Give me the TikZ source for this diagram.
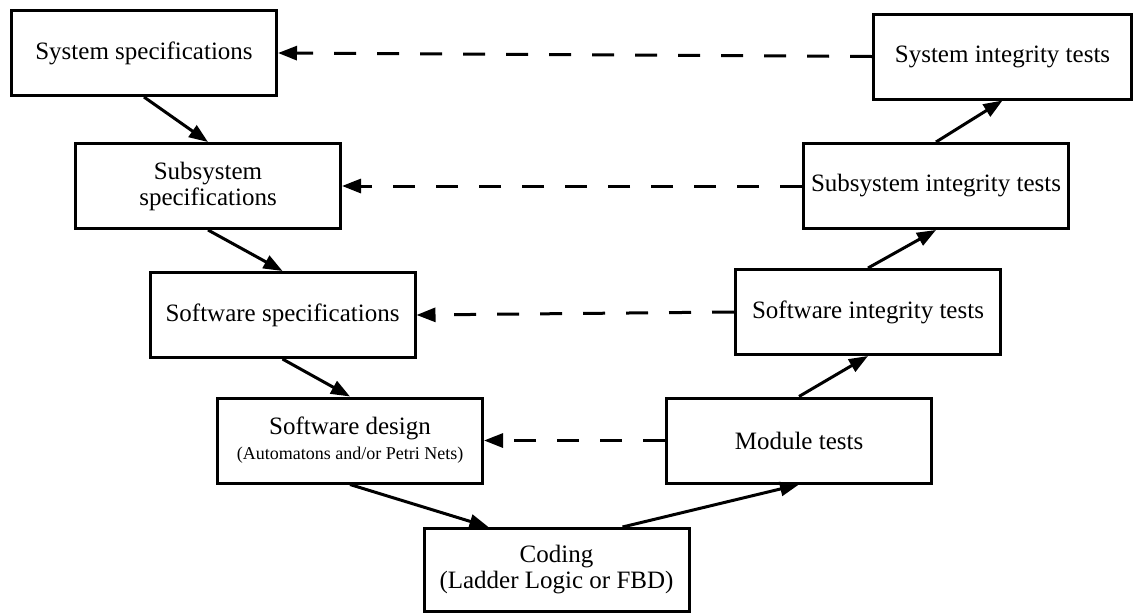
\documentclass[tikz,border=0pt]{standalone}
\usepackage{fontspec}
\setmainfont{Liberation Serif}
\usetikzlibrary{arrows.meta}
\begin{document}
\begin{tikzpicture}[x=1pt,y=-1pt,
  box/.style={draw, line width=3pt, minimum width=265pt, minimum height=85pt,
    inner sep=0pt, align=center, font=\fontsize{25pt}{26pt}\selectfont},
  flow/.style={line width=3pt, -{Triangle[length=19pt,width=14pt]}},
  back/.style={flow, dash pattern=on 22pt off 21pt}]
\useasboundingbox (0,0) rectangle (1135,614);
\node[box] (b1) at (144,53) {System specifications};
\node[box] (b2) at (208,186) {Subsystem\\specifications};
\node[box] (b3) at (282.5,315) {Software specifications};
\node[box] (b4) at (350,440.5) {Software design\\[-1pt]{\fontsize{18pt}{20pt}\selectfont(Automatons and/or Petri Nets)}};
\node[box, minimum height=83pt] (b5) at (556.5,570) {Coding\\(Ladder Logic or FBD)};
\node[box] (b6) at (799,440.5) {Module tests};
\node[box] (b7) at (868,312) {Software integrity tests};
\node[box] (b8) at (936,186) {Subsystem integrity tests};
\node[box, minimum width=258pt] (b9) at (1002.5,56.5) {System integrity tests};
\draw[flow] (b1.south) -- (b2.north);
\draw[flow] (b2.south) -- (b3.north);
\draw[flow] (b3.south) -- (b4.north);
\draw[flow] (b4.south) -- ([xshift=-68pt]b5.north);
\draw[flow] ([xshift=66pt]b5.north) -- (b6.south);
\draw[flow] (b6.north) -- (b7.south);
\draw[flow] (b7.north) -- (b8.south);
\draw[flow] (b8.north) -- (b9.south);
\draw[back] (b9.west) -- (b1.east);
\draw[back] (b8.west) -- (b2.east);
\draw[back] (b7.west) -- (b3.east);
\draw[back] (b6.west) -- (b4.east);
\end{tikzpicture}
\end{document}
